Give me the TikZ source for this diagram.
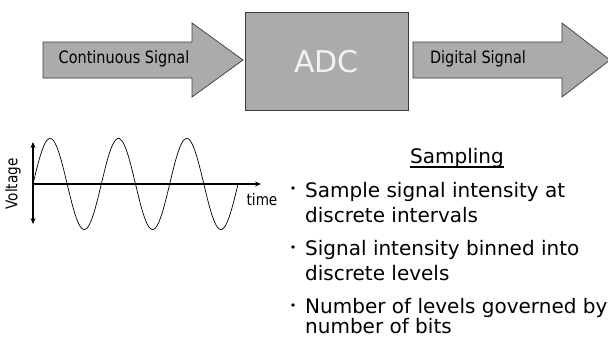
\documentclass[tikz,border=0pt]{standalone}
\usepackage{fontspec}
\usetikzlibrary{arrows.meta}
\setmainfont{DejaVu Sans}
\newfontfamily\lblfont[FakeStretch=0.85]{DejaVu Sans}
\definecolor{boxgray}{HTML}{ABABAB}
\definecolor{edgegray}{HTML}{3A3A3A}
\definecolor{adctext}{HTML}{F2F2F2}
\tikzset{
  shapefill/.style={fill=boxgray, draw=edgegray, line width=0.7pt, line join=miter},
  lbl/.style={inner sep=0pt, font=\lblfont\fontsize{17}{20}\selectfont, text=black},
  axislbl/.style={inner sep=0pt, font=\lblfont\fontsize{16}{19}\selectfont},
  bodytxt/.style={inner sep=0pt, anchor=base west, font=\fontsize{20}{24}\selectfont},
  bulletdot/.style={circle, fill=black, inner sep=0pt, minimum size=3.6pt},
  axisline/.style={line width=1.4pt, -{Stealth[length=6pt,width=5pt]}},
  wave/.style={line width=0.7pt}
}
\begin{document}
\begin{tikzpicture}[x=1pt,y=-1pt]
\useasboundingbox (0,0) rectangle (608,338);
% left arrow
\draw[shapefill] (43,42) -- (192,42) -- (192,23) -- (243,60) -- (192,97) -- (192,78) -- (43,78) -- cycle;
\node[lbl, anchor=base] (cont) at (124,63) {Continuous Signal};
% ADC box
\node[shapefill, minimum width=163pt, minimum height=98pt, inner sep=0pt] (adc) at (326.5,61) {};
\node[inner sep=0pt, anchor=base, text=adctext, font=\fontsize{30}{36}\selectfont] (adclbl) at (326.5,72) {ADC};
% right arrow
\draw[shapefill] (413,42) -- (562,42) -- (562,23) -- (610,60) -- (562,97) -- (562,78) -- (413,78) -- cycle;
\node[lbl, anchor=base] (dig) at (478,63) {Digital Signal};
% wave axes
\coordinate (o) at (33,184);
\coordinate (vtop) at (33,142);
\coordinate (vbot) at (33,224);
\coordinate (hend) at (261,184);
\draw[axisline] (o) -- (vtop);
\draw[axisline] (o) -- (vbot);
\draw[axisline] (o) -- (hend);
\draw[wave] plot[domain=0:205, samples=240, smooth] ({33+\x}, {184-45.5*sin(\x*5.2683)});
\node[axislbl, rotate=90] (volt) at (13,184) {Voltage};
\node[axislbl, anchor=base] (time) at (262,205) {time};
% text panel
\node[inner sep=0pt, anchor=base, font=\fontsize{20}{24}\selectfont] (samp) at (457,163) {Sampling};
\draw[line width=1.3pt] ([yshift=-4pt]samp.base west) -- ([yshift=-4pt]samp.base east);
\node[bulletdot] (b1) at (293,188) {};
\node[bodytxt] (l1) at (305,197) {Sample signal intensity at};
\node[bodytxt] (l2) at (305,222) {discrete intervals};
\node[bulletdot] (b2) at (293,247) {};
\node[bodytxt] (l3) at (305,255) {Signal intensity binned into};
\node[bodytxt] (l4) at (305,280) {discrete levels};
\node[bulletdot] (b3) at (293,305) {};
\node[bodytxt] (l5) at (305,313) {Number of levels governed by};
\node[bodytxt] (l6) at (305,333) {number of bits};
\end{tikzpicture}
\end{document}
